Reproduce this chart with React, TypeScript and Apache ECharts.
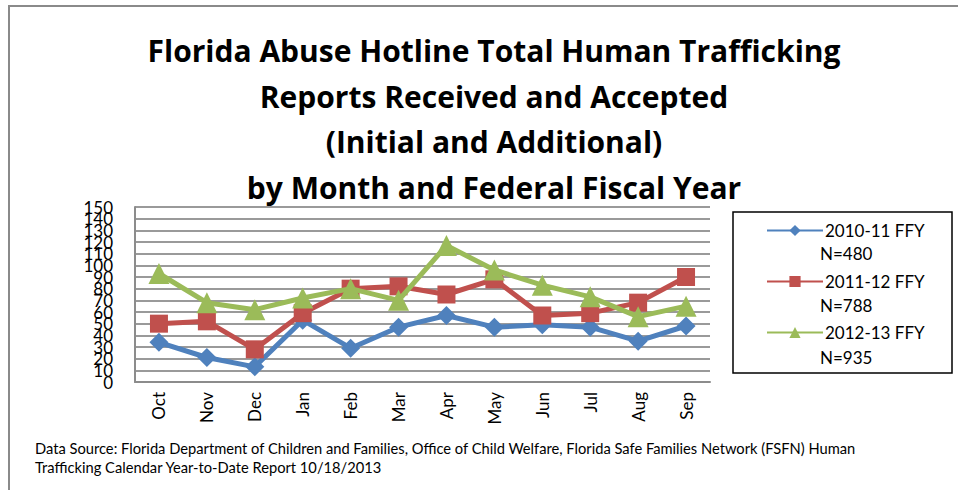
import React, { useEffect, useRef } from "react";
import * as echarts from "echarts";

const months = ["Oct", "Nov", "Dec", "Jan", "Feb", "Mar", "Apr", "May", "Jun", "Jul", "Aug", "Sep"];
const seriesNames = ["2010-11 FFY", "2011-12 FFY", "2012-13 FFY"];
const seriesN = ["N=480", "N=788", "N=935"];
const fy1011 = [34, 21, 13, 53, 29, 47, 57, 47, 49, 47, 35, 48];
const fy1112 = [50, 52, 28, 59, 80, 82, 75, 88, 57, 59, 68, 90];
const fy1213 = [93, 68, 62, 72, 80, 70, 117, 96, 83, 73, 56, 65];
const yTicks = { min: 0, max: 150, interval: 10 };
const yTickLabels = ["0", "10", "20", "30", "40", "50", "60", "70", "80", "90", "100", "110", "120", "130", "140", "150"];
const titleText = "Florida Abuse Hotline Total Human Trafficking\nReports Received and Accepted\n(Initial and Additional)\nby Month and Federal Fiscal Year";
const sourceText = "Data Source: Florida Department of Children and Families, Office of Child Welfare, Florida Safe Families Network (FSFN) Human\nTrafficking Calendar Year-to-Date Report 10/18/2013";

const colors = ["#4f81bd", "#c0504d", "#9bbb59"];
const FONT = "Lato, 'Open Sans', sans-serif";
const TFONT = "'Open Sans', sans-serif";

export default function App() {
  const ref = useRef<HTMLDivElement>(null);
  useEffect(() => {
    if (!ref.current) return;
    const chart = echarts.init(ref.current, undefined, { renderer: "svg" });
    const data = [fy1011, fy1112, fy1213];
    const symbols = ["diamond", "rect", "triangle"];
    const sizes = [19, 18, 21];
    chart.setOption({
      animation: false,
      backgroundColor: "#ffffff",
      title: {
        text: titleText,
        left: 489,
        textAlign: "center",
        top: 23,
        textStyle: { fontFamily: TFONT, fontSize: 30, fontWeight: "bold", color: "#000", lineHeight: 45.5 },
      },
      grid: { left: 135, right: 248, top: 207, bottom: 108 },
      legend: {
        show: true,
        orient: "vertical",
        left: 761,
        top: 217,
        itemWidth: 56,
        itemHeight: 14,
        itemGap: 34,
        textStyle: { fontFamily: FONT, fontSize: 17, color: "#000", padding: [0, 0, 0, -3] },
        data: seriesNames,
      },
      xAxis: {
        type: "category",
        data: months,
        boundaryGap: true,
        axisLine: { show: true, lineStyle: { color: "#8c8c8c", width: 2 } },
        axisTick: { show: false },
        axisLabel: { rotate: 90, fontFamily: FONT, fontSize: 17, color: "#000", margin: 10 },
      },
      yAxis: [
        {
          type: "value",
          min: yTicks.min,
          max: yTicks.max,
          interval: yTicks.interval,
          axisLine: { show: true, lineStyle: { color: "#8c8c8c", width: 2 } },
          axisTick: { show: false },
          axisLabel: { show: false },
          splitLine: { show: true, lineStyle: { color: "#9a9a9a", width: 2 } },
        },
        {
          type: "category",
          data: yTickLabels,
          position: "left",
          boundaryGap: false,
          axisLine: { show: false },
          axisTick: { show: false },
          splitLine: { show: false },
          axisLabel: { interval: 0, fontFamily: FONT, fontSize: 17, color: "#000", margin: 22 },
        },
      ],
      graphic: [
        { type: "rect", shape: { x: 9, y: 6, width: 1000, height: 1000 }, style: { fill: "none", stroke: "#8a8a8a", lineWidth: 2 }, silent: true },
        { type: "rect", shape: { x: 733, y: 212, width: 219, height: 161 }, style: { fill: "none", stroke: "#000", lineWidth: 1.5 }, silent: true },
        ...seriesN.map((n, i) => ({
          type: "text",
          left: 820,
          top: 245 + i * 52,
          style: { text: n, fontFamily: FONT, fontSize: 17, fill: "#000" },
        })),
        {
          type: "text",
          left: 35,
          top: 438,
          style: { text: sourceText, fontFamily: FONT, fontSize: 14.7, lineHeight: 19, fill: "#000" },
        },
      ],
      series: seriesNames.map((name, i) => ({
        name,
        type: "line",
        yAxisIndex: 0,
        data: data[i],
        symbol: symbols[i],
        symbolSize: sizes[i],
        lineStyle: { color: colors[i], width: 5 },
        itemStyle: { color: colors[i] },
        z: 3 + i,
      })),
    });
    return () => chart.dispose();
  }, []);
  return <div ref={ref} style={{ position: "absolute", left: 0, top: 0, width: 958, height: 490 }} />;
}
